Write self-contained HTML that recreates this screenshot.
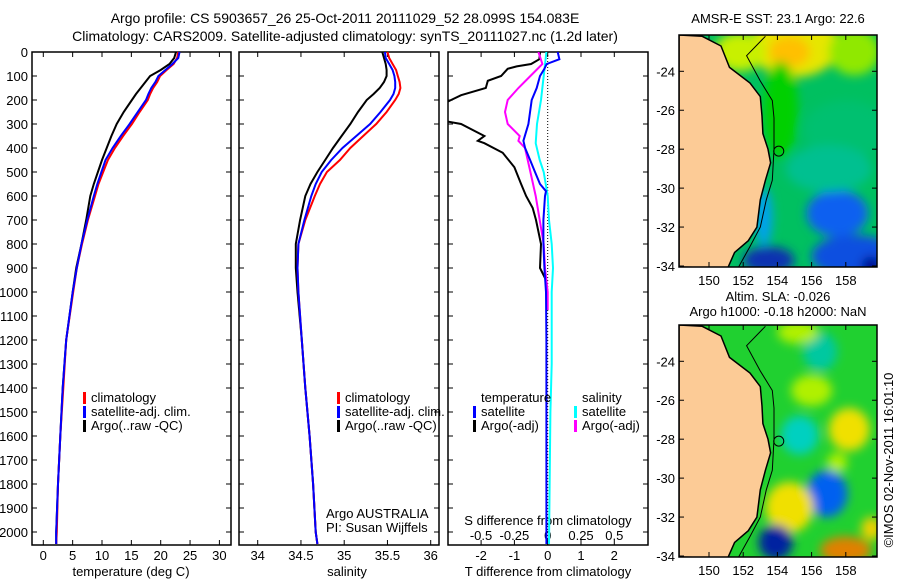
<!DOCTYPE html>
<html><head><meta charset="utf-8">
<style>
html,body{margin:0;padding:0;background:#fff;}
svg{display:block;font-family:"Liberation Sans",sans-serif;}
text{font-size:13px;fill:#000;}
</style></head>
<body>
<svg id="chart" width="900" height="580" viewBox="0 0 900 580" xmlns="http://www.w3.org/2000/svg">
<defs>
<clipPath id="clip3"><rect x="448" y="52" width="200" height="493"/></clipPath>
<clipPath id="clipm1"><rect x="679" y="35" width="198" height="232"/></clipPath>
<clipPath id="clipm2"><rect x="679" y="325" width="198" height="232"/></clipPath>
<filter id="blur1" x="-50%" y="-50%" width="200%" height="200%"><feGaussianBlur stdDeviation="5"/></filter>
</defs>
<text x="345" y="23" text-anchor="middle" style="font-size:14px">Argo profile: CS 5903657_26 25-Oct-2011 20111029_52 28.099S 154.083E</text>
<text x="345" y="41" text-anchor="middle" style="font-size:14px">Climatology: CARS2009. Satellite-adjusted climatology: synTS_20111027.nc (1.2d later)</text>
<g id="p1"></g>
<g id="p2"></g>
<g id="p3"></g>
<g id="m1"></g>
<g id="m2"></g>
<text x="778" y="23" text-anchor="middle">AMSR-E SST: 23.1 Argo: 22.6</text>
<text x="778" y="301" text-anchor="middle">Altim. SLA: -0.026</text>
<text x="778" y="316" text-anchor="middle">Argo h1000: -0.18 h2000: NaN</text>
<text x="0" y="0" transform="translate(893,460) rotate(-90)" text-anchor="middle">©IMOS 02-Nov-2011 16:01:10</text>
</svg>
<script>
// ---- data ----
const profDepth = [0,25,50,75,100,125,150,175,200,250,300,350,400,450,500,550,600,700,800,900,1000,1200,1400,1600,1800,2000,2050];
const tempClim = [23.0,22.8,22.2,21.0,19.9,19.4,18.7,18.2,17.8,16.4,15.1,13.6,12.2,11.0,10.2,9.4,8.8,7.6,6.6,5.7,5.1,3.9,3.4,2.9,2.5,2.3,2.2];
const tempSat = [23.2,23.0,22.0,20.8,19.6,19.1,18.4,17.9,17.5,16.1,14.7,13.2,11.8,10.6,9.9,9.2,8.6,7.5,6.5,5.7,5.0,3.9,3.3,2.9,2.5,2.2,2.2];
const tempArgo = [22.6,22.3,21.5,20.0,18.2,17.4,16.6,15.8,15.1,13.7,12.5,11.6,10.8,10.0,9.3,8.6,8.0,7.3,6.5,5.6,5.0,3.9,3.3,2.9,2.5,2.2,2.2];
const salClim = [35.50,35.52,35.56,35.60,35.62,35.64,35.65,35.63,35.59,35.49,35.37,35.22,35.07,34.95,34.80,34.72,34.66,34.55,34.47,34.46,34.47,34.51,34.55,34.60,34.64,34.67,34.69];
const salSat = [35.47,35.48,35.52,35.56,35.58,35.59,35.59,35.57,35.53,35.42,35.30,35.14,34.98,34.85,34.74,34.67,34.62,34.54,34.47,34.46,34.47,34.51,34.55,34.60,34.64,34.67,34.69];
const salArgo = [35.44,35.46,35.48,35.49,35.49,35.46,35.41,35.34,35.26,35.16,35.07,34.97,34.87,34.78,34.69,34.61,34.55,34.49,34.44,34.44,34.46,34.51,34.55,34.60,34.64,34.67,34.69];
const dTArgoDepth = [0,30,50,60,70,100,120,150,180,200,220,280,290,300,350,370,380,420,480,550,600,650,700,800,900,950];
const dTArgo = [-0.23,-0.25,-0.5,-0.93,-1.2,-1.4,-1.8,-1.86,-2.6,-2.9,-3.2,-3.2,-3.0,-2.6,-1.9,-2.1,-1.9,-1.35,-1.0,-0.8,-0.65,-0.45,-0.35,-0.2,-0.23,-0.05];
const dTSatDepth = [0,30,50,70,100,150,200,300,370,400,450,500,550,580,600,700,800,900,1000,1200,1500,2050];
const dTSat = [0.3,0.35,-0.03,-0.1,-0.23,-0.33,-0.48,-0.58,-0.73,-0.68,-0.53,-0.38,-0.23,-0.05,-0.08,-0.13,-0.13,-0.1,-0.05,-0.04,-0.04,-0.04];
const dSArgoDepth = [0,50,100,150,200,250,300,350,370,400,500,600,700,800,900,1000,1075];
const dSArgo = [-0.07,-0.04,-0.13,-0.22,-0.3,-0.32,-0.3,-0.21,-0.22,-0.17,-0.13,-0.09,-0.06,-0.03,-0.02,0.0,0.0];
const dSSatDepth = [0,100,200,300,380,450,500,600,700,800,900,1000,1300,1500,2050];
const dSSat = [-0.01,-0.03,-0.05,-0.08,-0.09,-0.06,-0.03,0,0.01,0.03,0.04,0.03,0.03,0.02,0.01];
const depthTicks = [0,100,200,300,400,500,600,700,800,900,1000,1100,1200,1300,1400,1500,1600,1700,1800,1900,2000];
const tempTicks = [0,5,10,15,20,25,30];
const salTicks = [34,34.5,35,35.5,36];
const dTTicks = [-2,-1,0,1,2];
const dSTicks = [-0.5,-0.25,0,0.25,0.5];
const dSTickLabels = ['-0.5','-0.25','0','0.25','0.5'];
const latTicks = [-24,-26,-28,-30,-32,-34];
const lonTicks = [150,152,154,156,158];
const coastLon = [149.6,150.7,151.2,152.4,153.0,153.1,153.15,153.45,153.6,153.3,153.0,152.8,152.3,151.5,151.1];
const coastLat = [-22.2,-22.7,-23.8,-24.6,-25.3,-26.3,-27.2,-28.0,-28.7,-29.6,-30.6,-32.0,-32.7,-33.3,-34.1];
const isoLon = [153.3,152.2,153.0,153.7,153.8,153.8,153.7,153.35,153.0,152.4,151.7];
const isoLat = [-22.2,-23.2,-24.5,-25.5,-26.4,-28.0,-29.6,-30.6,-32.0,-33.0,-34.1];
const argoLon = 154.08, argoLat = -28.1;

// ---- scales ----
const yD = d => 52 + 0.24*d;
const xT = v => 43.3 + 5.87*v;
const xS = v => 257.7 + 86.5*(v-34);
const xdT = v => 547.7 + 33.3*v;
const xdS = v => 547.7 + 133.3*v;
const mx = lon => 709 + 17.1*(lon-150);
const my1 = lat => 71.3 + 19.47*(-lat-24);
const my2 = lat => 361.3 + 19.47*(-lat-24);
const NS='http://www.w3.org/2000/svg';
function el(tag, attrs, parent){const e=document.createElementNS(NS,tag);for(const k in attrs)e.setAttribute(k,attrs[k]);parent.appendChild(e);return e;}
function txt(s, attrs, parent){const e=el('text',attrs,parent);e.textContent=s;return e;}
function line(depths, vals, sx, color, parent, name, clip){
  const pts=depths.map((d,i)=>sx(vals[i]).toFixed(1)+','+yD(d).toFixed(1)).join(' ');
  const p=el('polyline',{points:pts,fill:'none',stroke:color,'stroke-width':2},parent);
  if(clip)p.setAttribute('clip-path',clip);
  
  
}
function frame(g,x0,x1,name){
  const r=el('rect',{x:x0,y:52,width:x1-x0,height:493,fill:'none',stroke:'#000','stroke-width':1.5},g);
  
  
  depthTicks.forEach(d=>{el('line',{x1:x0,x2:x0+5,y1:yD(d),y2:yD(d),stroke:'#000'},g);el('line',{x1:x1-5,x2:x1,y1:yD(d),y2:yD(d),stroke:'#000'},g);});
}
function xticks(g,ticks,sx,labels,ylab){
  ticks.forEach((t,i)=>{el('line',{x1:sx(t),x2:sx(t),y1:545,y2:540,stroke:'#000'},g);el('line',{x1:sx(t),x2:sx(t),y1:52,y2:57,stroke:'#000'},g);
    const tl=txt(labels?labels[i]:String(t),{x:sx(t),y:ylab,'text-anchor':'middle'},g);
    
    });
}
function legend(g,x,y,color,label){
  el('rect',{x:x,y:y-10,width:3,height:12,fill:color},g);
  const t=txt(label,{x:x+8,y:y},g);
  
  
}
// panel 1
const p1=document.getElementById('p1');
frame(p1,32,231,'temperature-axes');
depthTicks.forEach(d=>{const t=txt(String(d),{x:28,y:yD(d)+5,'text-anchor':'end'},p1);
  
  });
xticks(p1,tempTicks,xT,null,560);
txt('temperature (deg C)',{x:131,y:576,'text-anchor':'middle'},p1);
line(profDepth,tempArgo,xT,'#000',p1,'temp-argo-line');
line(profDepth,tempClim,xT,'#f00',p1,'temp-climatology-line');
line(profDepth,tempSat,xT,'#00f',p1,'temp-satellite-line');
legend(p1,83,402,'#f00','climatology');legend(p1,83,416,'#00f','satellite-adj. clim.');legend(p1,83,430,'#000','Argo(..raw -QC)');
// panel 2
const p2=document.getElementById('p2');
frame(p2,239,439,'salinity-axes');
xticks(p2,salTicks,xS,null,560);
txt('salinity',{x:347,y:576,'text-anchor':'middle'},p2);
line(profDepth,salArgo,xS,'#000',p2,'sal-argo-line');
line(profDepth,salClim,xS,'#f00',p2,'sal-climatology-line');
line(profDepth,salSat,xS,'#00f',p2,'sal-satellite-line');
legend(p2,337,402,'#f00','climatology');legend(p2,337,416,'#00f','satellite-adj. clim.');legend(p2,337,430,'#000','Argo(..raw -QC)');
txt('Argo AUSTRALIA',{x:326,y:518},p2);
txt('PI: Susan Wijffels',{x:326,y:532},p2);
// panel 3
const p3=document.getElementById('p3');
frame(p3,448,648,'difference-axes');
xticks(p3,dTTicks,xdT,null,560);
dSTicks.forEach((t,i)=>{const tl=txt(dSTickLabels[i],{x:xdS(t),y:540,'text-anchor':'middle'},p3);
  
  });
txt('S difference from climatology',{x:548,y:525,'text-anchor':'middle'},p3);
txt('T difference from climatology',{x:548,y:576,'text-anchor':'middle'},p3);
el('line',{x1:xdT(0),x2:xdT(0),y1:52,y2:545,stroke:'#000','stroke-dasharray':'1,2'},p3);
line(dTArgoDepth,dTArgo,xdT,'#000',p3,'dT-argo-line','url(#clip3)');
line(dSArgoDepth,dSArgo,xdS,'#f0f',p3,'dS-argo-line','url(#clip3)');
line(dSSatDepth,dSSat,xdS,'#0ff',p3,'dS-satellite-line','url(#clip3)');
line(dTSatDepth,dTSat,xdT,'#00f',p3,'dT-satellite-line','url(#clip3)');
txt('temperature',{x:481,y:402},p3);
legend(p3,473,416,'#00f','satellite');legend(p3,473,430,'#000','Argo(-adj)');
txt('salinity',{x:582,y:402},p3);
legend(p3,574,416,'#0ff','satellite');legend(p3,574,430,'#f0f','Argo(-adj)');
// maps
function map(id,top,my,clip,blobs,bg){
  const g=document.getElementById(id);
  const inner=el('g',{'clip-path':clip},g);
  el('rect',{x:679,y:top,width:198,height:232,fill:bg},inner);
  const bg2=el('g',{filter:'url(#blur1)'},inner);
  blobs.forEach(b=>el('ellipse',{cx:mx(b[0]),cy:my(b[1]),rx:b[2]*17.1,ry:b[3]*19.5,fill:b[4]},bg2));
  const cpts=coastLon.map((l,i)=>mx(l).toFixed(1)+','+my(coastLat[i]).toFixed(1));
  const land=el('polygon',{points:cpts.join(' ')+' 679,'+(top+232)+' 679,'+top,fill:'#fccb96',stroke:'#000','stroke-width':1.5},inner);
  
  
  el('polyline',{points:isoLon.map((l,i)=>mx(l).toFixed(1)+','+my(isoLat[i]).toFixed(1)).join(' '),fill:'none',stroke:'#000','stroke-width':1},inner);
  const c=el('circle',{cx:mx(argoLon),cy:my(argoLat),r:5,fill:'none',stroke:'#000'},inner);
  
  
  el('rect',{x:679,y:top,width:198,height:232,fill:'none',stroke:'#000','stroke-width':1.5},g);
  latTicks.forEach(l=>{el('line',{x1:679,x2:684,y1:my(l),y2:my(l),stroke:'#000'},g);el('line',{x1:872,x2:877,y1:my(l),y2:my(l),stroke:'#000'},g);
    const t=txt(String(l),{x:675,y:my(l)+5,'text-anchor':'end'},g);
    
    });
  lonTicks.forEach(l=>{el('line',{x1:mx(l),x2:mx(l),y1:top,y2:top+5,stroke:'#000'},g);el('line',{x1:mx(l),x2:mx(l),y1:top+227,y2:top+232,stroke:'#000'},g);
    const t=txt(String(l),{x:mx(l),y:top+250,'text-anchor':'middle'},g);
    
    });
}
const sstBlobs=[[155,-22.7,2.6,1.6,'#e6e600'],[154.7,-23.0,1.2,0.8,'#ffc000'],[151.8,-23.0,1.5,1.0,'#c8f000'],[158.5,-23,1.5,1.2,'#90e800'],[154.2,-26,1.0,2.5,'#00d000'],[158,-27,2.5,1.5,'#00c070'],[157.5,-31.3,1.8,1.2,'#1060f0'],[158.5,-33.5,2.5,1.1,'#1050e0'],[153.5,-33.7,1.5,0.7,'#1030b0'],[159.5,-34,0.6,0.5,'#000090'],[157,-29,2.5,1.2,'#00c090'],[153.2,-31.5,0.5,1.5,'#00a0f0']];
const slaBlobs=[[156.5,-23.5,1.0,1.0,'#00c8a0'],[155.2,-22.5,1.2,0.6,'#b0f000'],[156,-25.5,1.2,0.8,'#b0f000'],[155.3,-27.8,1.1,1.0,'#00d0c0'],[158.2,-27.5,1.2,1.1,'#f0e000'],[156.9,-30.8,1.2,1.2,'#0060f0'],[154.7,-31.5,1.4,1.3,'#f0e000'],[153.9,-33.3,1.0,0.9,'#0020a0'],[158,-33.7,1.5,0.7,'#e08000'],[159.5,-32.6,0.6,0.6,'#f0d000'],[157.5,-29.2,0.6,0.5,'#b0f000']];
map('m1',35,my1,'url(#clipm1)',sstBlobs,'#00c060');
map('m2',325,my2,'url(#clipm2)',slaBlobs,'#20d030');
</script>
</body></html>
